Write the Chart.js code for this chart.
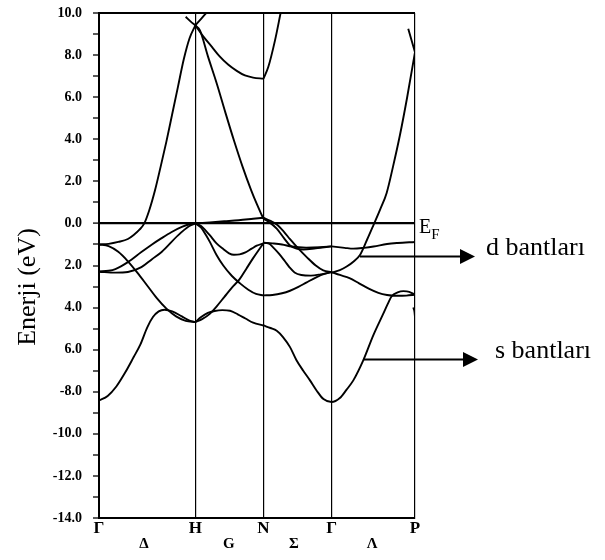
<!DOCTYPE html>
<html>
<head>
<meta charset="utf-8">
<script src="https://cdn.jsdelivr.net/npm/chart.js@4.4.1/dist/chart.umd.min.js"></script>
<style>
  html, body { margin: 0; padding: 0; background: #fff; }
</style>
</head>
<body>
<canvas id="bandChart" width="605" height="560"></canvas>
<script>
// Yüksek simetri noktaları (k ekseni)
const kLabels = ['Γ', 'H', 'N', 'Γ', 'P'];
const kPoints = [0, 1, 1.7071, 2.4142, 3.2802];
const dirLabels = ['Δ', 'G', 'Σ', 'Λ'];
const dirPoints = [0.467, 1.349, 2.024, 2.834];

// Enerji ekseni etiketleri (orijinaldeki gibi yazılmış)
const tickValues = [10, 8, 6, 4, 2, 0, -2, -4, -6, -8, -10, -12, -14];
const tickLabels = ['10.0', '8.0', '6.0', '4.0', '2.0', '0.0', '2.0', '4.0', '6.0', '-8.0', '-10.0', '-12.0', '-14.0'];

// Bantlar: [k, E (eV)]
// Γ - H
const sBandGH = [[0,-8.42],[0.09,-8.2],[0.18,-7.75],[0.27,-7.1],[0.36,-6.35],[0.43,-5.75],[0.5,-4.95],[0.56,-4.45],[0.62,-4.18],[0.68,-4.1],[0.76,-4.18],[0.86,-4.42],[0.94,-4.62],[1,-4.69]];
const descGH = [[0,-1.0],[0.1,-1.08],[0.2,-1.35],[0.3,-1.8],[0.4,-2.35],[0.5,-2.95],[0.6,-3.55],[0.7,-4.05],[0.8,-4.42],[0.9,-4.63],[1,-4.69]];
const steepGH = [[0,-1.0],[0.1,-0.97],[0.2,-0.88],[0.3,-0.74],[0.36,-0.55],[0.42,-0.3],[0.47,0],[0.52,0.6],[0.58,1.55],[0.64,2.7],[0.7,3.9],[0.76,5.2],[0.82,6.5],[0.88,7.8],[0.94,8.8],[1,9.41]];
const upperGH = [[0,-2.28],[0.1,-2.25],[0.17,-2.17],[0.3,-1.84],[0.44,-1.36],[0.55,-1.0],[0.65,-0.7],[0.75,-0.42],[0.86,-0.17],[0.94,-0.04],[1,0]];
const lowerGH = [[0,-2.3],[0.17,-2.34],[0.3,-2.31],[0.44,-2.08],[0.55,-1.7],[0.65,-1.36],[0.82,-0.57],[0.93,-0.15],[1,0]];
const topLeftH = [[0.9,9.82],[0.95,9.6],[1,9.41]];

// H - N
const topRightH = [[1,9.41],[1.06,9.72],[1.11,9.98]];
const bandBHN = [[1,9.41],[1.08,8.9],[1.17,8.4],[1.25,7.95],[1.34,7.55],[1.43,7.25],[1.515,7.03],[1.6,6.93],[1.7071,6.88]];
const bandCHN = [[1,9.41],[1.048,9.17],[1.13,7.95],[1.223,6.64],[1.31,5.3],[1.401,3.94],[1.49,2.7],[1.58,1.57],[1.64,0.9],[1.689,0.4],[1.7071,0.22]];
const bandDHN = [[1,0],[1.15,0.05],[1.3,0.1],[1.45,0.15],[1.6,0.22],[1.7071,0.27]];
const bandEHN = [[1,0],[1.06,-0.12],[1.11,-0.35],[1.152,-0.57],[1.22,-0.95],[1.29,-1.22],[1.35,-1.42],[1.4,-1.49],[1.46,-1.47],[1.52,-1.38],[1.585,-1.2],[1.637,-1.06],[1.7071,-0.95]];
const bandFHN = [[1,0],[1.06,-0.2],[1.11,-0.55],[1.152,-0.89],[1.22,-1.5],[1.29,-2.0],[1.38,-2.5],[1.464,-2.85],[1.55,-3.15],[1.63,-3.35],[1.7071,-3.42]];
const bandGHN = [[1,-4.69],[1.07,-4.55],[1.15,-4.3],[1.22,-3.95],[1.3,-3.5],[1.38,-3.05],[1.46,-2.65],[1.53,-2.15],[1.6,-1.65],[1.66,-1.25],[1.7071,-0.95]];
const sBandHN = [[1,-4.69],[1.06,-4.45],[1.13,-4.25],[1.2,-4.16],[1.28,-4.12],[1.36,-4.15],[1.44,-4.32],[1.52,-4.52],[1.6,-4.72],[1.7071,-4.85]];

// N - Γ
const bandBNG = [[1.7071,6.88],[1.757,7.43],[1.827,8.7],[1.885,10]];
const bandCNG = [[1.7071,0.22],[1.77,0.05],[1.845,-0.25],[1.92,-0.7],[1.983,-1.05],[2.05,-1.2],[2.12,-1.24],[2.25,-1.18],[2.4142,-1.09]];
const bandDNG = [[1.7071,0.27],[1.78,0.12],[1.845,-0.05],[1.92,-0.4],[1.983,-0.75],[2.07,-1.2],[2.156,-1.6],[2.25,-2.0],[2.328,-2.23],[2.4142,-2.31]];
const bumpNG = [[1.7071,-0.92],[1.76,-0.95],[1.81,-1.15],[1.87,-1.45],[1.93,-1.8],[1.98,-2.1],[2.03,-2.33],[2.1,-2.45],[2.2,-2.48],[2.3,-2.42],[2.4142,-2.31]];
const bandFNG = [[1.7071,-3.42],[1.8,-3.4],[1.9,-3.32],[1.983,-3.2],[2.07,-3.02],[2.156,-2.8],[2.26,-2.55],[2.34,-2.4],[2.4142,-2.31]];
const flatNG = [[1.7071,-0.92],[1.8,-0.95],[1.9,-1.0],[2.0,-1.1],[2.15,-1.15],[2.3,-1.13],[2.4142,-1.09]];
const sBandNGP = [[1.7071,-4.85],[1.78,-4.97],[1.845,-5.1],[1.91,-5.4],[1.983,-5.88],[2.05,-6.5],[2.12,-7.0],[2.19,-7.46],[2.26,-7.95],[2.33,-8.35],[2.4142,-8.49],[2.5,-8.3],[2.57,-7.9],[2.64,-7.46],[2.743,-6.51],[2.847,-5.32],[2.95,-4.3],[3.0,-3.8],[3.04,-3.45],[3.1,-3.28],[3.16,-3.22],[3.22,-3.25],[3.2802,-3.39]];

// Γ - P
const flatGP = [[2.4142,-1.09],[2.55,-1.16],[2.64,-1.2],[2.75,-1.16],[2.85,-1.1],[2.99,-0.98],[3.1,-0.93],[3.2802,-0.88]];
const lowerGP = [[2.4142,-2.31],[2.5,-2.45],[2.6,-2.6],[2.7,-2.85],[2.8,-3.1],[2.9,-3.3],[2.99,-3.4],[3.09,-3.44],[3.19,-3.43],[3.2802,-3.39]];
const steepGP = [[2.4142,-2.34],[2.5,-2.22],[2.571,-2.05],[2.64,-1.82],[2.709,-1.5],[2.78,-0.8],[2.847,-0.1],[2.92,0.68],[2.986,1.45],[3.052,2.7],[3.124,4.2],[3.197,5.95],[3.2802,8.14]];
const topP = [[3.21,9.25],[3.2802,8.14]];
const curlP = [[3.262,-4.0],[3.275,-4.2],[3.2802,-4.45]];

const bands = [sBandGH, descGH, steepGH, upperGH, lowerGH, topLeftH,
  topRightH, bandBHN, bandCHN, bandDHN, bandEHN, bandFHN, bandGHN, sBandHN,
  bandBNG, bandCNG, bandDNG, bumpNG, bandFNG, flatNG, sBandNGP,
  flatGP, lowerGP, steepGP, topP, curlP];

const serif = '"Liberation Serif", "Times New Roman", serif';

// Ek yazılar ve oklar
const annotations = {
  id: 'annotations',
  afterDraw(chart) {
    const { ctx, chartArea } = chart;
    const x = chart.scales.x, y = chart.scales.y;

    ctx.save();
    ctx.fillStyle = '#000';
    ctx.strokeStyle = '#000';

    // y ekseni başlığı
    ctx.save();
    ctx.translate(35, 287);
    ctx.rotate(-Math.PI / 2);
    ctx.font = '26px ' + serif;
    ctx.textAlign = 'center';
    ctx.textBaseline = 'alphabetic';
    ctx.fillText('Enerji (eV)', 0, 0);
    ctx.restore();

    // E_F
    const y0 = y.getPixelForValue(0);
    ctx.textAlign = 'left';
    ctx.textBaseline = 'alphabetic';
    ctx.font = '20px ' + serif;
    ctx.fillText('E', chartArea.right + 4, y0 + 10);
    const eW = ctx.measureText('E').width;
    ctx.font = '15px ' + serif;
    ctx.fillText('F', chartArea.right + 4 + eW, y0 + 16);

    function arrow(k, e, tipX, text, textX) {
      const sx = x.getPixelForValue(k);
      const sy = Math.round(y.getPixelForValue(e)) + 0.5;
      ctx.lineWidth = 2;
      ctx.beginPath();
      ctx.moveTo(sx, sy);
      ctx.lineTo(tipX - 12, sy);
      ctx.stroke();
      ctx.beginPath();
      ctx.moveTo(tipX, sy);
      ctx.lineTo(tipX - 15, sy - 7.5);
      ctx.lineTo(tipX - 15, sy + 7.5);
      ctx.closePath();
      ctx.fill();
      ctx.font = '26px ' + serif;
      ctx.fillText(text, textX, sy - 2);
    }
    arrow(2.709, -1.57, chartArea.right + 60, 'd bantları', chartArea.right + 71);
    arrow(2.74, -6.46, chartArea.right + 63, 's bantları', chartArea.right + 80);

    ctx.restore();
  }
};

new Chart(document.getElementById('bandChart'), {
  type: 'scatter',
  data: {
    datasets: bands.map(b => ({
      data: b.map(p => ({ x: p[0], y: p[1] })),
      showLine: true,
      borderColor: '#000',
      borderWidth: 1.9,
      pointRadius: 0,
      cubicInterpolationMode: 'monotone'
    }))
  },
  options: {
    responsive: false,
    animation: false,
    devicePixelRatio: 1,
    layout: { padding: { left: 0, right: 190, top: 13, bottom: 0 } },
    plugins: { legend: { display: false }, tooltip: { enabled: false } },
    scales: {
      x: {
        type: 'linear', min: 0, max: kPoints[4], position: 'bottom', weight: 0,
        afterBuildTicks: s => { s.ticks = kPoints.map(v => ({ value: v })); },
        afterFit: s => { s.height = 17; s.paddingLeft = 0; s.paddingRight = 0; },
        grid: { color: '#000', lineWidth: 1.2, drawTicks: false },
        border: { color: '#000', width: 2 },
        ticks: {
          autoSkip: false, maxRotation: 0, padding: 0, color: '#000',
          font: { family: serif, size: 17, weight: 'bold' },
          callback: (v, i) => kLabels[i]
        }
      },
      x2: {
        type: 'linear', min: 0, max: kPoints[4], position: 'bottom', weight: 1,
        afterBuildTicks: s => { s.ticks = dirPoints.map(v => ({ value: v })); },
        afterFit: s => { s.height = 25; s.paddingLeft = 0; s.paddingRight = 0; },
        grid: { display: false, drawTicks: false },
        border: { display: false },
        ticks: {
          autoSkip: false, maxRotation: 0, padding: 0, color: '#000',
          font: { family: serif, size: 15, weight: 'bold' },
          callback: (v, i) => dirLabels[i]
        }
      },
      y: {
        min: -14, max: 10,
        afterFit: s => { s.width = 99; s.paddingTop = 0; s.paddingBottom = 0; },
        border: { color: '#000', width: 2 },
        grid: {
          drawOnChartArea: true, drawTicks: true, tickLength: 6,
          tickColor: '#000', tickWidth: 1.3,
          color: c => (c.tick && (c.tick.value === 10 || c.tick.value === 0)) ? '#000' : 'rgba(0,0,0,0)',
          lineWidth: c => (c.tick && c.tick.value === 0) ? 2.2 : 2
        },
        ticks: {
          stepSize: 1, autoSkip: false, padding: 11, color: '#000',
          font: { family: serif, size: 14, weight: 'bold' },
          callback: v => {
            const i = tickValues.indexOf(v);
            return i >= 0 ? tickLabels[i] : '';
          }
        }
      }
    }
  },
  plugins: [annotations]
});
</script>
</body>
</html>
